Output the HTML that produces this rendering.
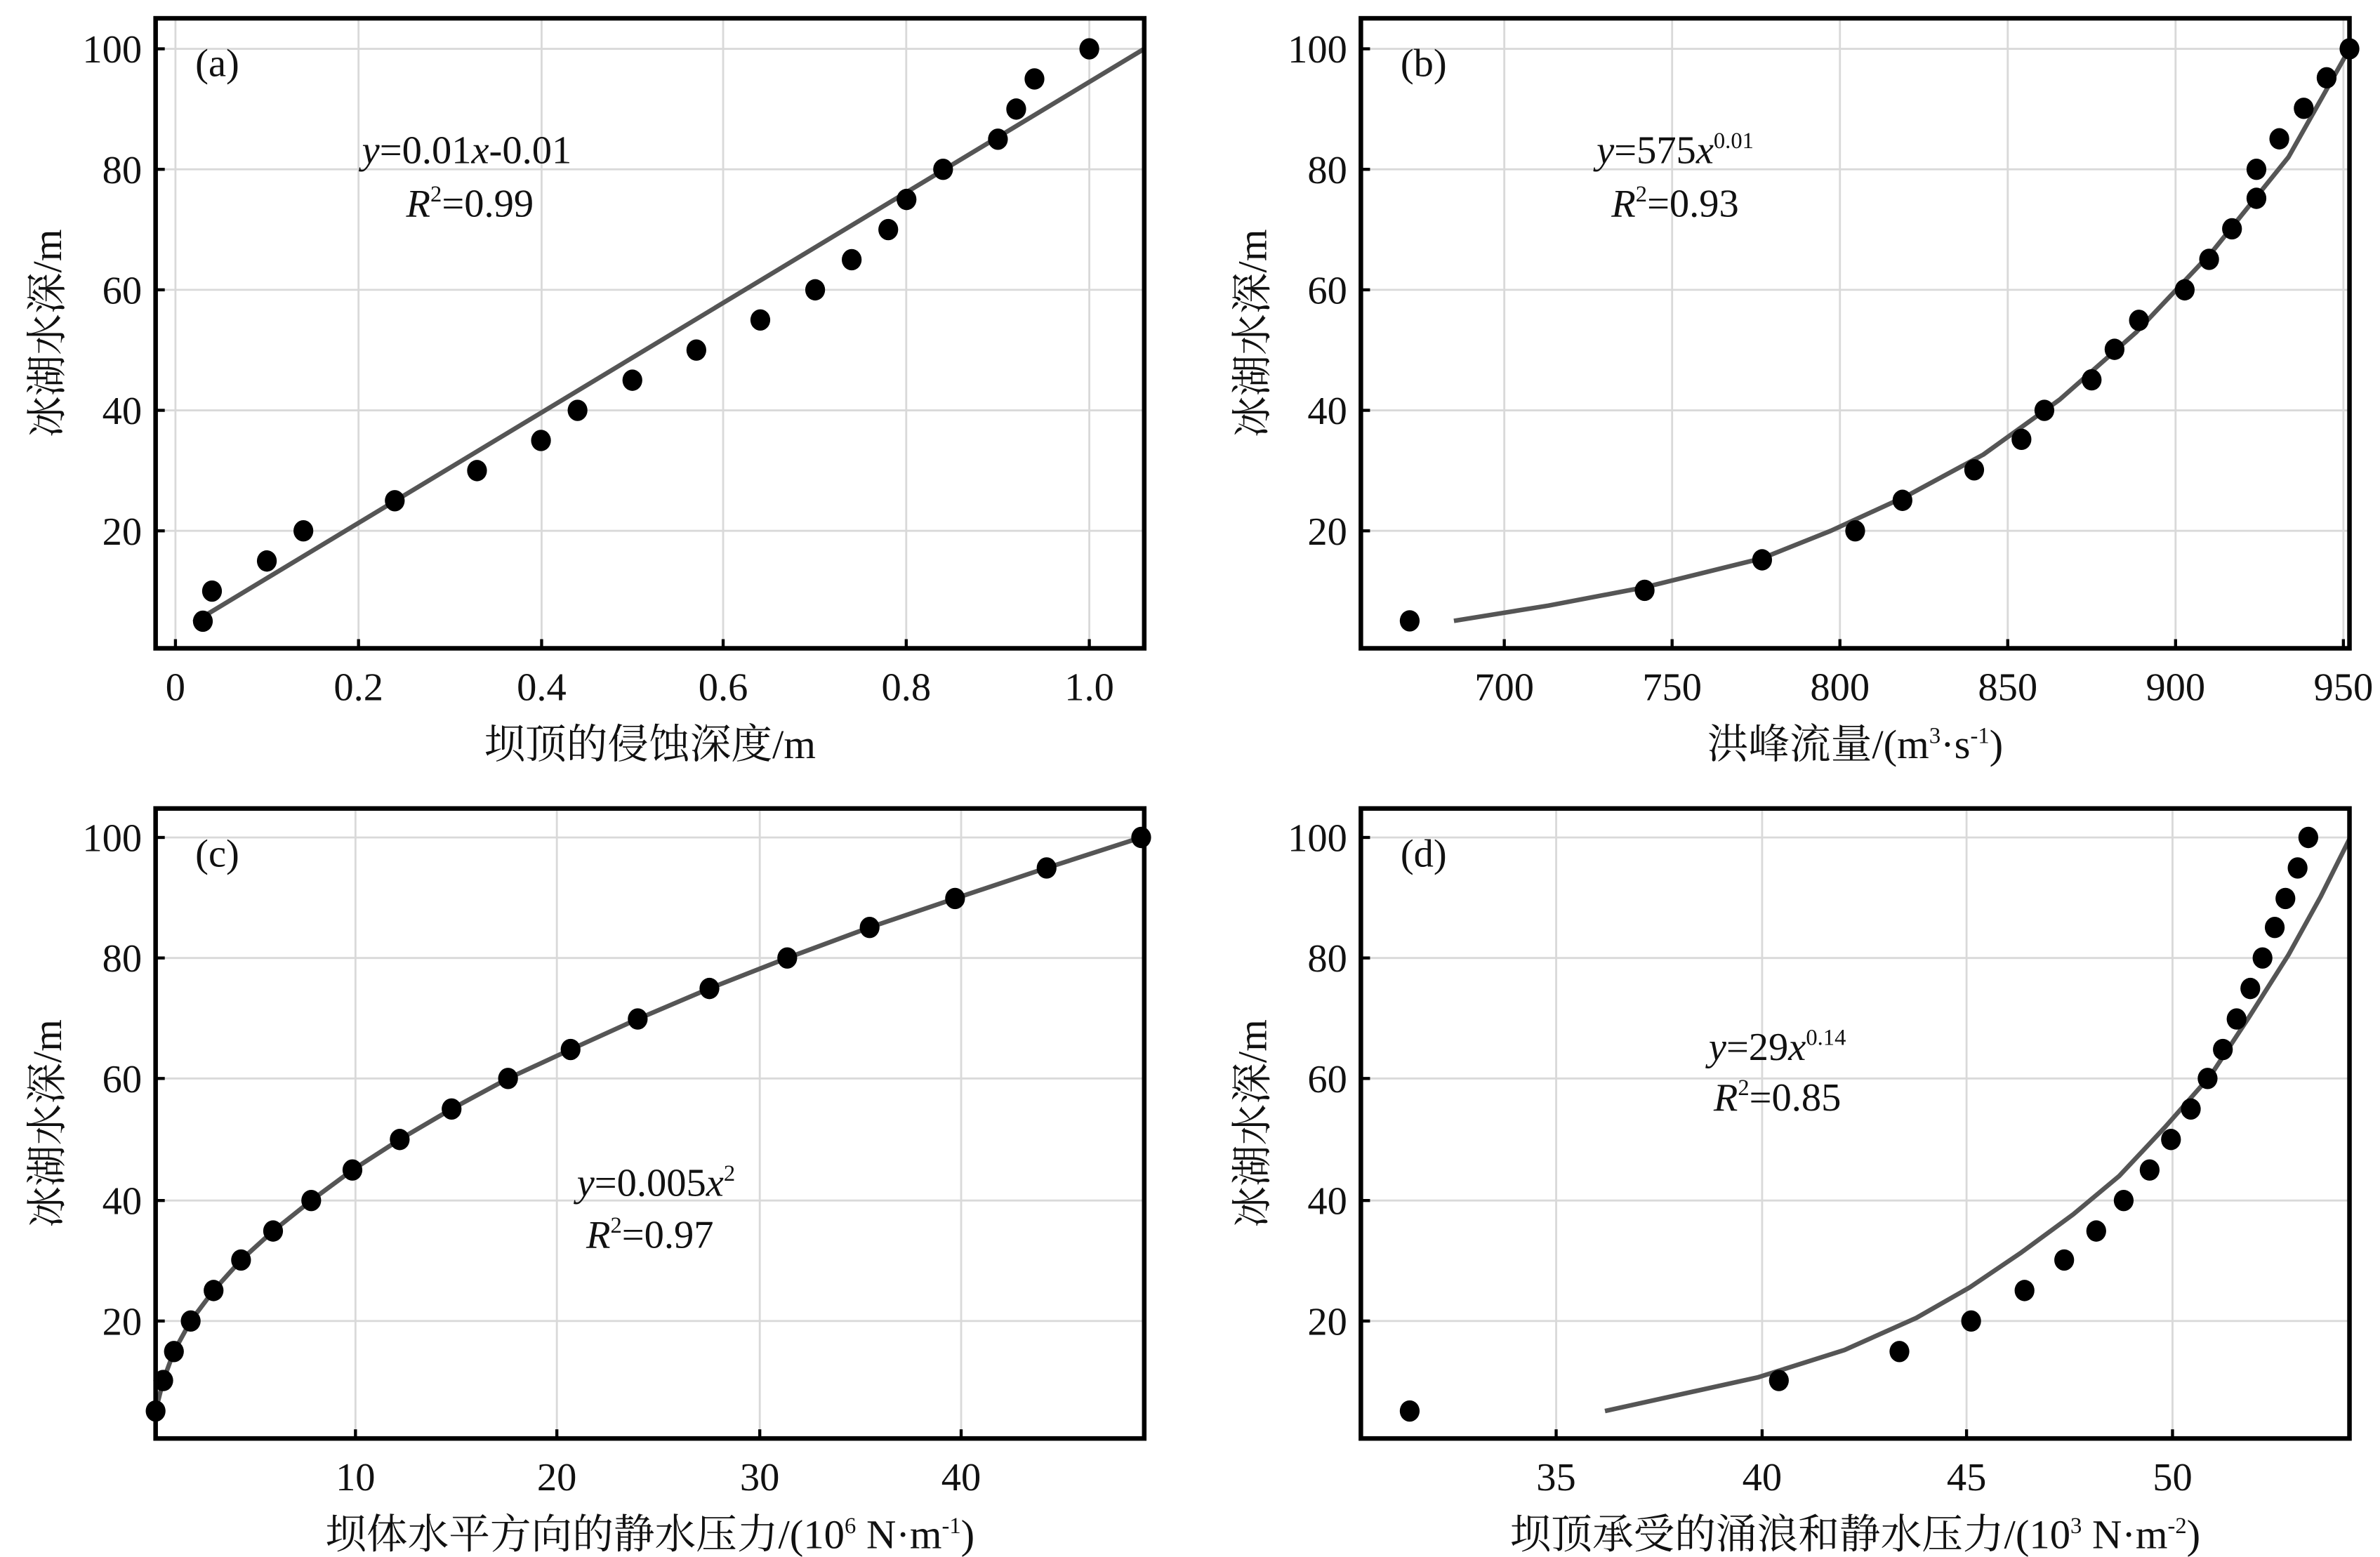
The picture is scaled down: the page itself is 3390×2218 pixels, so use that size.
<!DOCTYPE html>
<html><head><meta charset="utf-8"><style>
html,body{margin:0;padding:0;background:#fff}
svg{display:block}
text{font-family:"Liberation Serif","Noto Serif CJK SC",serif;fill:#111}
</style></head><body>
<svg id="s" width="3390" height="2218" viewBox="0 0 1560 1020.7" preserveAspectRatio="none" xmlns="http://www.w3.org/2000/svg"></svg>
<script>
const s=document.getElementById('s');let h='';
function panel(o){
 const {L,R,T,B}=o;
 o.xt.forEach(t=>{h+=`<line x1="${t[0]}" y1="${T}" x2="${t[0]}" y2="${B}" stroke="#d9d9d9" stroke-width="1.3"/>`;});
 o.yt.forEach(t=>{h+=`<line x1="${L}" y1="${t[0]}" x2="${R}" y2="${t[0]}" stroke="#d9d9d9" stroke-width="1.3"/>`;});
 o.xt.forEach(t=>{h+=`<line x1="${t[0]}" y1="${B}" x2="${t[0]}" y2="${B-6}" stroke="#000" stroke-width="2"/><text x="${t[0]}" y="${B+34}" font-size="26" text-anchor="middle">${t[1]}</text>`;});
 o.yt.forEach(t=>{h+=`<line x1="${L}" y1="${t[0]}" x2="${L+6}" y2="${t[0]}" stroke="#000" stroke-width="2"/><text x="${L-9}" y="${t[0]+9}" font-size="26" text-anchor="end">${t[1]}</text>`;});
 h+=`<polyline points="${o.c.map(p=>p.join(',')).join(' ')}" fill="none" stroke="#555" stroke-width="3" stroke-linejoin="round"/>`;
 o.p.forEach(p=>{h+=`<ellipse cx="${p[0]}" cy="${p[1]}" rx="6.5" ry="7" fill="#000"/>`;});
 h+=`<rect x="${L}" y="${T}" width="${R-L}" height="${B-T}" fill="none" stroke="#000" stroke-width="3"/>`;
 h+=`<text x="${L+26}" y="${T+38}" font-size="26">${o.lab}</text>`;
 h+=`<text transform="translate(${L-62},${(T+B)/2}) rotate(-90)" font-size="27" text-anchor="middle">冰湖水深/m</text>`;
 h+=`<text x="${(L+R)/2}" y="${B+72}" font-size="27" text-anchor="middle">${o.xl}</text>`;
 h+=o.eq;
}
const yA=[[32,100],[111,80],[190,60],[269,40],[348,20]];
const yC=[[549,100],[628,80],[707,60],[787,40],[866,20]];
panel({L:102,R:750,T:12,B:425,lab:'(a)',xl:'坝顶的侵蚀深度/m',
 xt:[[115,'0'],[235,'0.2'],[355,'0.4'],[474,'0.6'],[594,'0.8'],[714,'1.0']],yt:yA,
 c:[[127,408],[750,32]],
 p:[[0.03,5],[0.04,10],[0.10,15],[0.14,20],[0.24,25],[0.33,30],[0.40,35],[0.44,40],[0.50,45],[0.57,50],[0.64,55],[0.70,60],[0.74,65],[0.78,70],[0.80,75],[0.84,80],[0.90,85],[0.92,90],[0.94,95],[1.0,100]].map(d=>[115+599*d[0],427-3.95*d[1]]),
 eq:`<text x="306" y="107" font-size="26" text-anchor="middle"><tspan font-style="italic">y</tspan>=0.01<tspan font-style="italic">x</tspan>-0.01</text><text x="308" y="142" font-size="26" text-anchor="middle"><tspan font-style="italic">R</tspan><tspan font-size="15" dy="-10">2</tspan><tspan dy="10">=0.99</tspan></text>`});
panel({L:892,R:1540,T:12,B:425,lab:'(b)',xl:'洪峰流量/(m<tspan font-size="15" dy="-10">3</tspan><tspan dy="10">·s</tspan><tspan font-size="15" dy="-10">-1</tspan><tspan dy="10">)</tspan>',
 xt:[[986,'700'],[1096,'750'],[1206,'800'],[1316,'850'],[1426,'900'],[1536,'950']],yt:yA,
 c:[[953,407],[1015,397],[1078,385],[1155,366],[1200,348],[1250,325],[1300,298],[1350,262],[1400,218],[1450,165],[1500,103],[1540,32]],
 p:[[924,407],[1078,387],[1155,367],[1216,348],[1247,328],[1294,308],[1325,288],[1340,269],[1371,249],[1386,229],[1402,210],[1432,190],[1448,170],[1463,150],[1479,130],[1479,111],[1494,91],[1510,71],[1525,51],[1540,32]],
 eq:`<text x="1098" y="107" font-size="26" text-anchor="middle"><tspan font-style="italic">y</tspan>=575<tspan font-style="italic">x</tspan><tspan font-size="15" dy="-10">0.01</tspan></text><text x="1098" y="142" font-size="26" text-anchor="middle"><tspan font-style="italic">R</tspan><tspan font-size="15" dy="-10">2</tspan><tspan dy="10">=0.93</tspan></text>`});
const pc=[[102,925],[107,905],[114,886],[125,866],[140,846],[158,826],[179,807],[204,787],[231,767],[262,747],[296,727],[333,707],[374,688],[418,668],[465,648],[516,628],[570,608],[626,589],[686,569],[748,549]];
panel({L:102,R:750,T:530,B:943,lab:'(c)',xl:'坝体水平方向的静水压力/(10<tspan font-size="15" dy="-10">6</tspan><tspan dy="10"> N·m</tspan><tspan font-size="15" dy="-10">-1</tspan><tspan dy="10">)</tspan>',
 xt:[[233,'10'],[365,'20'],[498,'30'],[630,'40']],yt:yC,
 c:pc,p:pc,
 eq:`<text x="430" y="784" font-size="26" text-anchor="middle"><tspan font-style="italic">y</tspan>=0.005<tspan font-style="italic">x</tspan><tspan font-size="15" dy="-10">2</tspan></text><text x="426" y="818" font-size="26" text-anchor="middle"><tspan font-style="italic">R</tspan><tspan font-size="15" dy="-10">2</tspan><tspan dy="10">=0.97</tspan></text>`});
panel({L:892,R:1540,T:530,B:943,lab:'(d)',xl:'坝顶承受的涌浪和静水压力/(10<tspan font-size="15" dy="-10">3</tspan><tspan dy="10"> N·m</tspan><tspan font-size="15" dy="-10">-2</tspan><tspan dy="10">)</tspan>',
 xt:[[1020,'35'],[1155,'40'],[1289,'45'],[1424,'50']],yt:yC,
 c:[[1052,925],[1152,903],[1209,885],[1256,864],[1291,844],[1325,821],[1359,796],[1389,771],[1419,739],[1449,705],[1474,667],[1500,626],[1521,588],[1540,550]],
 p:[[924,925],[1166,905],[1245,886],[1292,866],[1327,846],[1353,826],[1374,807],[1392,787],[1409,767],[1423,747],[1436,727],[1447,707],[1457,688],[1466,668],[1475,648],[1483,628],[1491,608],[1498,589],[1506,569],[1513,549]],
 eq:`<text x="1165" y="695" font-size="26" text-anchor="middle"><tspan font-style="italic">y</tspan>=29<tspan font-style="italic">x</tspan><tspan font-size="15" dy="-10">0.14</tspan></text><text x="1165" y="728" font-size="26" text-anchor="middle"><tspan font-style="italic">R</tspan><tspan font-size="15" dy="-10">2</tspan><tspan dy="10">=0.85</tspan></text>`});
s.innerHTML=h;
</script>
</body></html>
